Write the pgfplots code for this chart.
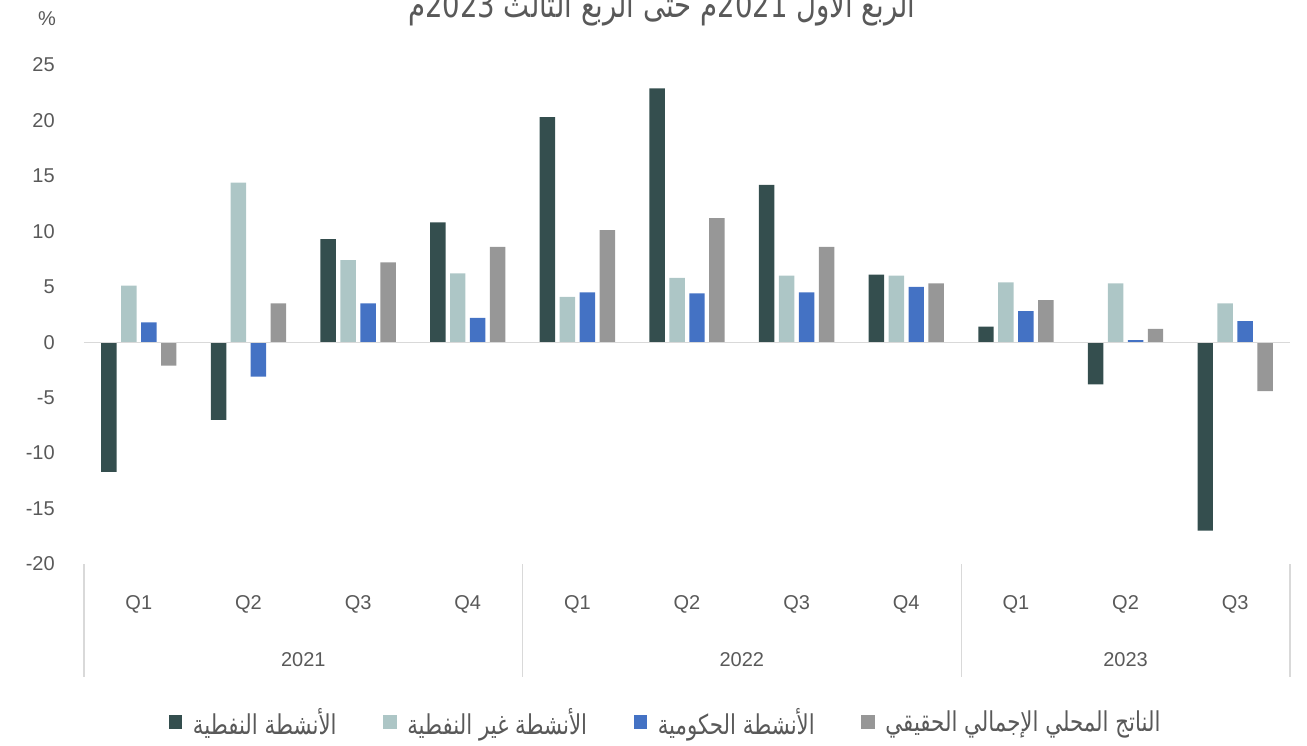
\documentclass[border=0pt]{standalone}
\usepackage{fontspec}
\setmainfont{Liberation Sans}
\newfontfamily\arabicfont[Script=Arabic,FakeStretch=0.78]{DejaVu Sans}
\TeXXeTstate=1
\usepackage{pgfplots}
\usepackage{pgfplotstable}
\pgfplotsset{compat=1.18}
\definecolor{oilc}{HTML}{344E4E}
\definecolor{nonoilc}{HTML}{ADC6C6}
\definecolor{govc}{HTML}{4472C4}
\definecolor{gdpc}{HTML}{979797}
\definecolor{txt}{HTML}{595959}
\definecolor{linec}{HTML}{D9D9D9}
\pgfplotstableread{
x oil nonoil gov gdp
0 -11.7 5.1 1.8 -2.1
1 -7.0 14.4 -3.1 3.5
2 9.3 7.4 3.5 7.2
3 10.8 6.2 2.2 8.6
4 20.3 4.1 4.5 10.1
5 22.9 5.8 4.4 11.2
6 14.2 6.0 4.5 8.6
7 6.1 6.0 5.0 5.3
8 1.4 5.4 2.8 3.8
9 -3.8 5.3 0.2 1.2
10 -17.0 3.5 1.9 -4.4
}\datatable
\newcommand{\leg}[1]{\hspace{6pt}{\arabicfont\beginR #1\endR}}
\begin{document}
\begin{tikzpicture}
\useasboundingbox (-63pt,-136.5pt) rectangle (917.25pt,423pt);
\begin{axis}[
  scale only axis,
  width=904.5pt, height=374.25pt,
  xmin=-0.5, xmax=10.5, ymin=-20, ymax=25,
  ytick={-20,-15,...,25},
  xtick=data,
  xticklabels={Q1,Q2,Q3,Q4,Q1,Q2,Q3,Q4,Q1,Q2,Q3},
  axis line style={draw=none},
  major tick length=0pt,
  tick style={draw=none},
  /pgf/number format/assume math mode=true,
  ticklabel style={font=\fontsize{15}{18}\selectfont, text=txt},
  yticklabel style={anchor=east, inner sep=0pt, xshift=-21.75pt},
  xticklabel style={anchor=center, inner sep=0pt, yshift=-30pt},
  clip=false,
  ybar, bar width=0.141,
  legend columns=4,
  legend cell align=left,
  legend style={draw=none, fill=none, at={(0.4826,-0.3166)}, anchor=center,
    font=\fontsize{20.5}{22}\selectfont, text=txt,
    /tikz/every even column/.append style={column sep=33pt},
    inner sep=0pt},
  legend image code/.code={\fill[#1] (0pt,-5pt) rectangle (10pt,5pt);},
]
\addplot[fill=oilc, draw=none, bar shift=-0.273] table[x=x,y=oil] {\datatable};
\addlegendentry{\leg{الأنشطة النفطية}}
\addplot[fill=nonoilc, draw=none, bar shift=-0.091] table[x=x,y=nonoil] {\datatable};
\addlegendentry{\leg{الأنشطة غير النفطية}}
\addplot[fill=govc, draw=none, bar shift=0.091] table[x=x,y=gov] {\datatable};
\addlegendentry{\leg{الأنشطة الحكومية}}
\addplot[fill=gdpc, draw=none, bar shift=0.273] table[x=x,y=gdp] {\datatable};
\addlegendentry{\leg{الناتج المحلي الإجمالي الحقيقي}}
\draw[linec, line width=1pt] (axis cs:-0.5,0) -- (axis cs:10.5,0);
\pgfplotsinvokeforeach{-0.5,3.5,7.5,10.5}{
  \draw[linec, line width=0.8pt] (axis cs:#1,-20) -- ([yshift=-85pt]axis cs:#1,-20);
}
\node[text=txt, font=\fontsize{15}{18}\selectfont] at ([yshift=-72pt]axis cs:1.5,-20) {2021};
\node[text=txt, font=\fontsize{15}{18}\selectfont] at ([yshift=-72pt]axis cs:5.5,-20) {2022};
\node[text=txt, font=\fontsize{15}{18}\selectfont] at ([yshift=-72pt]axis cs:9,-20) {2023};
\node[text=txt, font=\fontsize{15}{18}\selectfont] at ([xshift=-27.75pt,yshift=35pt]axis cs:-0.5,25) {\%};
\node[text=txt, anchor=base, font=\arabicfont\fontsize{26.5}{30}\selectfont] at ([yshift=35.25pt]axis cs:4.77,25) {\beginR الربع الأول 2021م حتى الربع الثالث 2023م\endR};
\end{axis}
\end{tikzpicture}
\end{document}
